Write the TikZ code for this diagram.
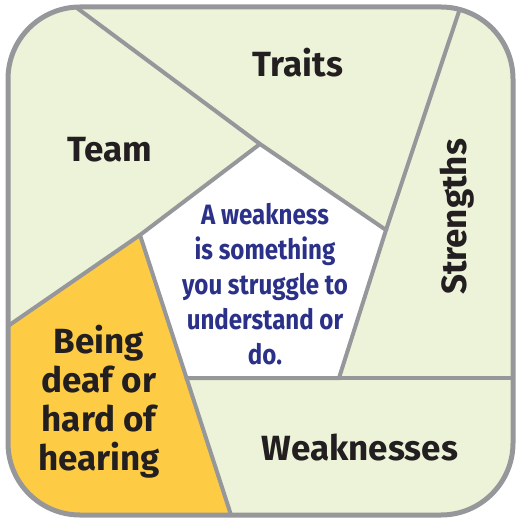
\documentclass[tikz,border=0pt]{standalone}
\usepackage{fontspec}
\setmainfont{Fira Sans}
\newfontfamily\narrowfont[FakeStretch=0.86]{Fira Sans}
\usetikzlibrary{calc}
\definecolor{panelColor}{RGB}{237,243,217}
\definecolor{focusColor}{RGB}{254,204,68}
\definecolor{lineColor}{RGB}{150,151,155}
\definecolor{inkColor}{RGB}{35,31,32}
\definecolor{noteColor}{RGB}{43,49,137}
\tikzset{sectiontext/.style={text=inkColor, font=\bfseries\fontsize{35}{39}\selectfont, inner sep=0pt, align=center}}
\tikzset{notetext/.style={text=noteColor, font=\narrowfont\bfseries\fontsize{28}{35}\selectfont, inner sep=0pt, align=center}}
\tikzset{divider/.style={draw=lineColor, line width=4pt}}
\tikzset{frame/.style={divider, line width=5pt, rounded corners=72pt}}

\begin{document}
\begin{tikzpicture}[x=1pt, y=-1pt]
	\useasboundingbox (0,0) rectangle (516,518);

	% Corners of the middle pentagon
	\coordinate (top) at (260,144);
	\coordinate (right) at (386,230);
	\coordinate (lowright) at (339,378);
	\coordinate (lowleft) at (186.5,378);
	\coordinate (left) at (140,235);

	% Where the dividers meet the frame
	\coordinate (topcut) at (77,8);
	\coordinate (rightcut) at (459,12);
	\coordinate (leftcut) at (8,326);
	\coordinate (bottomcut) at (231,515);
	\coordinate (sidecut) at (513,378);

	\begin{scope}
		\clip[rounded corners=72pt] (8,7) rectangle (513,515);
		\fill[panelColor] (0,0) rectangle (516,518);
		\fill[focusColor] (left) -- ($(left)!1.2!(leftcut)$) -- (0,518) -- ($(left)!1.2!(bottomcut)$) -- cycle;
		\fill[white] (top) -- (right) -- (lowright) -- (lowleft) -- (left) -- cycle;

		% Dividers
		\draw[divider] (top) -- (right) -- (lowright) -- (lowleft) -- (left) -- cycle;
		\draw[divider] (top) -- ($(top)!1.2!(topcut)$);
		\draw[divider] ($(lowright)!1.1!(rightcut)$) -- (right);
		\draw[divider] (left) -- ($(left)!1.2!(leftcut)$);
		\draw[divider] (lowleft) -- ($(left)!1.2!(bottomcut)$);
		\draw[divider] (lowright) -- ($(lowright)!1.1!(sidecut)$);
	\end{scope}
	\draw[frame] (8,7) rectangle (513,515);

	% Labels
	\node (traits) [sectiontext, anchor=base] at (298,77) {Traits};
	\node (team) [sectiontext, anchor=base] at (110,162) {Team};
	\node (strengths) [sectiontext, anchor=base, rotate=90] at (466,217) {Strengths};
	\node (weaknesses) [sectiontext, anchor=base] at (360,460) {Weaknesses};
	\node (deaf) [sectiontext] at (99,402) {Being\\deaf or\\hard of\\hearing};
	\node (definition) [notetext] at (265,284) {A weakness\\is something\\you struggle to\\understand or\\do.};
\end{tikzpicture}
\end{document}
